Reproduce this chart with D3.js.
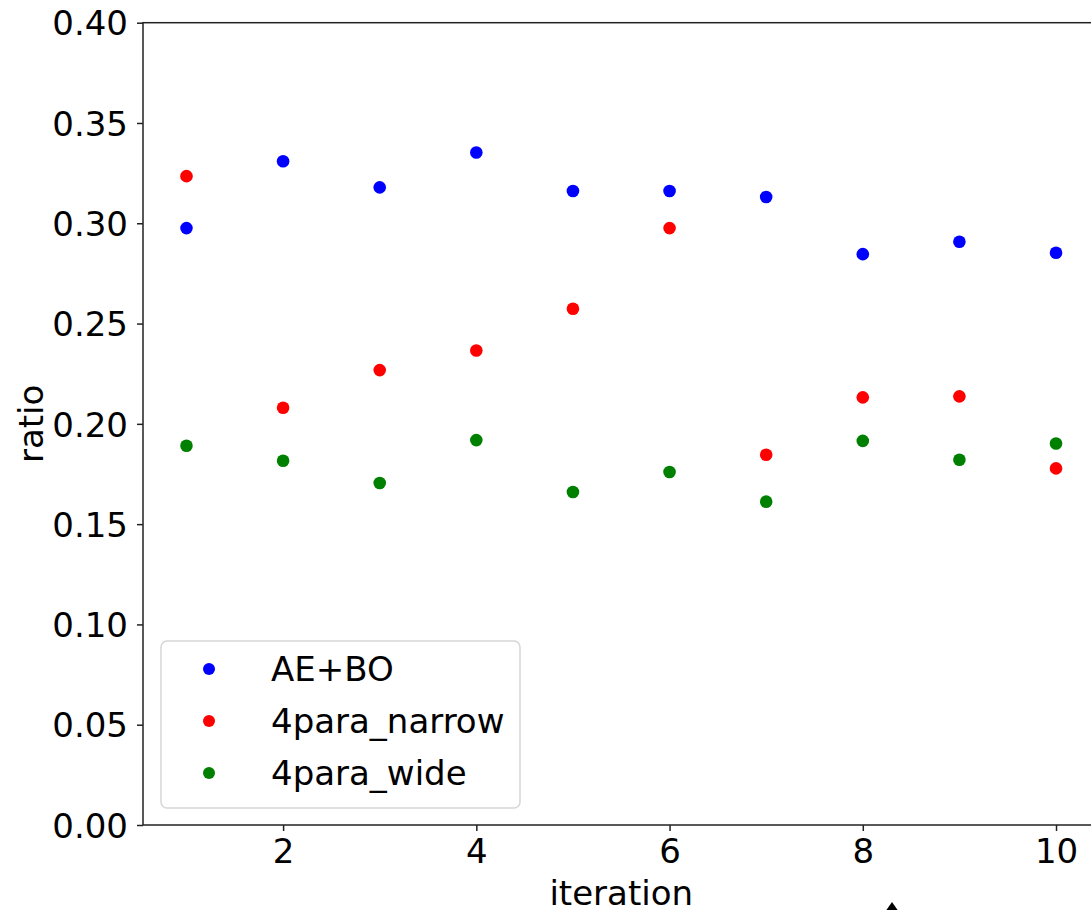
<!DOCTYPE html>
<html><head><meta charset="utf-8">
<script src="https://cdn.jsdelivr.net/npm/d3@7"></script>
<style>body{margin:0;background:#fff}svg{display:block}</style>
</head><body><svg id="c" width="1091" height="910"></svg>
<script>
const iterations = [1,2,3,4,5,6,7,8,9,10];
const aeBo = [0.2976,0.3309,0.3179,0.3353,0.3161,0.3161,0.3131,0.2846,0.2908,0.2853];
const narrow = [0.3235,0.2080,0.2268,0.2366,0.2574,0.2976,0.1846,0.2132,0.2137,0.1778];
const wide = [0.1891,0.1816,0.1705,0.1919,0.1660,0.1760,0.1612,0.1915,0.1821,0.1902];
const seriesNames = ["AE+BO","4para_narrow","4para_wide"];
const seriesColors = ["#0000ff","#ff0000","#008000"];
const xTicks = [2,4,6,8,10];
const yTicks = [0,0.05,0.10,0.15,0.20,0.25,0.30,0.35,0.40];

const svg = d3.select("#c");
const font = "DejaVu Sans, sans-serif";
const FS = 34;
const L=143, R=1099.5, T=22.7, B=825;
const x = d3.scaleLinear().domain([0.55,10.45]).range([L,R]);
const y = d3.scaleLinear().domain([0,0.40]).range([B,T]);

// spines
svg.append("rect").attr("x",L).attr("y",T).attr("width",R-L).attr("height",B-T)
  .attr("fill","none").attr("stroke","#222").attr("stroke-width",1.5);

const xa = svg.append("g").attr("transform",`translate(0,${B})`)
  .call(d3.axisBottom(x).tickValues(xTicks).tickFormat(d3.format("d")).tickSize(6));
const ya = svg.append("g").attr("transform",`translate(${L},0)`)
  .call(d3.axisLeft(y).tickValues(yTicks).tickFormat(d3.format(".2f")).tickSize(6).tickPadding(9));
[xa,ya].forEach(a=>{
  a.select(".domain").remove();
  a.selectAll("line").attr("stroke","#222").attr("stroke-width",1.5);
  a.selectAll("text").attr("font-family",font).attr("font-size",FS).attr("fill","#000");
});
xa.selectAll("text").attr("y",38).attr("dy",0);
ya.selectAll("text").attr("dy","0.36em");

svg.append("text").attr("x",(L+R)/2).attr("y",905).attr("text-anchor","middle")
  .attr("font-family",font).attr("font-size",FS).text("iteration");
svg.append("text").attr("transform",`translate(43,${(T+B)/2}) rotate(-90)`).attr("text-anchor","middle")
  .attr("font-family",font).attr("font-size",FS).text("ratio");

const all = [aeBo,narrow,wide];
all.forEach((vals,i)=>{
  svg.append("g").selectAll("circle").data(vals).join("circle")
    .attr("cx",(d,j)=>x(iterations[j])).attr("cy",d=>y(d)).attr("r",6.3)
    .attr("fill",seriesColors[i]);
});

// legend
const lg = svg.append("g");
lg.append("rect").attr("x",161).attr("y",641).attr("width",359).attr("height",167).attr("rx",6)
  .attr("fill","#fff").attr("fill-opacity",0.8).attr("stroke","#d6d6d6").attr("stroke-width",1.5);
seriesNames.forEach((n,i)=>{
  const cy = 669 + i*52;
  lg.append("circle").attr("cx",209).attr("cy",cy).attr("r",6).attr("fill",seriesColors[i]);
  lg.append("text").attr("x",271).attr("y",cy).attr("dy","0.36em")
    .attr("font-family",font).attr("font-size",FS).text(n);
});

// small cursor triangle at bottom
svg.append("path").attr("d","M892,902 L885,912 L899,912 Z").attr("fill","#000");
</script></body></html>
